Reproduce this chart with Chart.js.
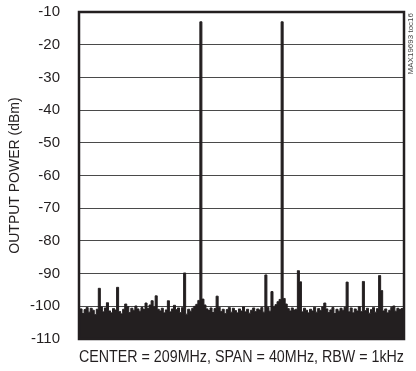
<!DOCTYPE html>
<html>
<head>
<meta charset="utf-8">
<script src="https://cdn.jsdelivr.net/npm/chart.js@4"></script>
<style>
  html, body { margin: 0; padding: 0; background: #fff; }
  #wrap { width: 416px; height: 371px; position: relative; }
</style>
</head>
<body>
<div id="wrap"><canvas id="spectrum"></canvas></div>
<script>
// Output spectrum, two-tone test: offset from center (MHz) vs output power (dBm)
const freqStart = -20;
const freqStep = 0.25;

// noise floor, one value per 0.25MHz from -20MHz to +20MHz
const noiseFloor = [
  -101.5, -100.8, -102.2, -101.0, -100.4, -101.8, -100.6, -101.2, -102.5, -100.9,
  -101.3, -100.2, -101.7, -100.5, -99.8, -101.4, -102.0, -100.7, -101.1, -100.3,
  -101.6, -102.3, -100.9, -101.4, -100.1, -101.9, -100.6, -101.2, -99.9, -100.8,
  -101.5, -100.4, -101.0, -102.1, -100.7, -99.6, -101.3, -100.2, -101.8, -100.9,
  -101.4, -100.6, -102.0, -101.1, -100.3, -101.7, -100.8, -99.7, -101.0, -100.5,
  -101.9, -100.4, -101.2, -102.4, -100.9, -101.5, -100.6, -100.0, -99.4, -98.2,
  -99.0, -97.8, -99.6, -100.8, -101.3, -100.5, -101.9, -100.7, -101.2, -100.3,
  -101.6, -100.9, -102.2, -101.0, -100.4, -101.8, -100.6, -101.3, -102.0, -100.8,
  -101.4, -100.2, -101.7, -100.9, -102.1, -101.2, -100.5, -101.6, -100.8, -101.1,
  -100.4, -101.8, -101.0, -100.3, -101.5, -100.6, -100.2, -99.5, -98.6, -97.9,
  -99.0, -97.6, -99.3, -100.7, -101.4, -100.5, -101.1, -100.9, -101.5, -100.8,
  -101.7, -100.6, -101.2, -102.0, -100.9, -101.4, -100.3, -101.8, -100.7, -101.3,
  -100.2, -101.6, -100.8, -101.9, -101.1, -100.4, -102.2, -100.9, -101.5, -100.6,
  -101.2, -100.3, -101.0, -101.7, -100.5, -102.0, -100.8, -101.4, -100.1, -101.6,
  -100.9, -101.3, -100.6, -102.1, -101.0, -100.4, -101.8, -100.7, -101.1, -100.5,
  -101.4, -100.8, -102.0, -101.2, -100.3, -99.9, -101.5, -100.6, -101.0, -100.7,
  -101.2
];

// tones and spurs: offset (MHz) and level (dBm)
const spurFreqs  = [-5.0, 5.0, -17.5, -16.5, -15.25, -14.25, -11.75, -11.0, -10.5, -9.0, -7.0, -3.0, 3.0, 3.75, 7.0, 7.25, 10.25, 13.0, 15.0, 17.0, 17.25];
const spurLevels = [-13, -13, -94.5, -98.9, -94.2, -99.3, -99.0, -98.3, -96.8, -98.3, -89.8, -96.9, -90.4, -95.5, -89.1, -92.5, -99.0, -92.6, -92.4, -90.6, -95.2];

const yTicks = [-110, -100, -90, -80, -70, -60, -50, -40, -30, -20, -10];

const ink = '#231f20';
const fontFam = "'Liberation Sans Narrow', 'Liberation Sans', Arial, sans-serif";

const points = noiseFloor.map((v, i) => ({ x: freqStart + i * freqStep, y: v }));
spurFreqs.forEach((f, k) => {
  const i = Math.round((f - freqStart) / freqStep);
  points[i].y = spurLevels[k];
});

const frameAndNote = {
  id: 'frameAndNote',
  afterDraw(chart) {
    const { ctx, chartArea: a } = chart;
    ctx.save();
    ctx.strokeStyle = ink;
    ctx.lineWidth = 2.5;
    ctx.strokeRect(a.left, a.top, a.right - a.left, a.bottom - a.top);
    // figure tag along the right edge
    ctx.translate(a.right + 7, a.top + 1);
    ctx.rotate(-Math.PI / 2);
    ctx.fillStyle = '#444';
    ctx.font = "8px 'Liberation Sans', Arial, sans-serif";
    ctx.textAlign = 'right';
    ctx.textBaseline = 'middle';
    ctx.fillText('MAX19693 toc16', 0, 0);
    ctx.restore();
  }
};

new Chart(document.getElementById('spectrum'), {
  type: 'line',
  data: {
    datasets: [{
      data: points,
      stepped: 'middle',
      fill: 'start',
      borderColor: ink,
      backgroundColor: ink,
      borderWidth: 1,
      pointRadius: 0,
    }]
  },
  options: {
    responsive: true,
    maintainAspectRatio: false,
    animation: false,
    layout: { padding: { top: 12, right: 12, left: 0, bottom: 0 } },
    plugins: { legend: { display: false }, tooltip: { enabled: false } },
    scales: {
      x: {
        type: 'linear', min: -20, max: 20,
        grid: { display: false },
        border: { display: false },
        ticks: { display: false },
        title: { display: true, text: 'CENTER = 209MHz, SPAN = 40MHz, RBW = 1kHz', color: ink, font: { family: fontFam, size: 16 }, padding: { top: 0, bottom: 4 } },
        afterFit: s => { s.height = 32; s.paddingLeft = 0; s.paddingRight = 0; }
      },
      y: {
        min: -110, max: -10,
        afterBuildTicks: s => { s.ticks = yTicks.map(v => ({ value: v })); },
        grid: { color: '#4a4a4a', lineWidth: 1, drawTicks: false },
        border: { display: false },
        ticks: { color: ink, padding: 19, font: { family: fontFam, size: 15 } },
        title: { display: true, text: 'OUTPUT POWER (dBm)', color: ink, font: { family: fontFam, size: 14 }, padding: { top: 7, bottom: 0 } },
        afterFit: s => { s.width = 79; s.paddingTop = 0; s.paddingBottom = 0; }
      }
    }
  },
  plugins: [frameAndNote]
});
</script>
</body>
</html>
